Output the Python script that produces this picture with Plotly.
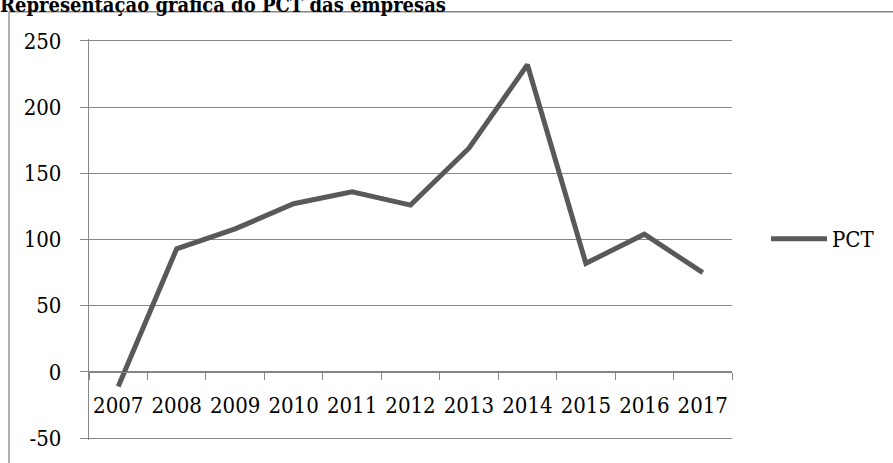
import plotly.graph_objects as go

years = ["2007", "2008", "2009", "2010", "2011", "2012", "2013", "2014", "2015", "2016", "2017"]
pct = [-11, 93, 108, 127, 136, 126, 169, 232, 82, 104, 75]
series_name = "PCT"
title_text = "Representação gráfica do PCT das empresas"
y_tickvals = [-50, 0, 50, 100, 150, 200, 250]
y_ticktext = ["-50", "0", "50", "100", "150", "200", "250"]

W, H = 893, 463
L, R, T, B = 89, 161, 39, 19
pw = W - L - R
ph = H - T - B
ymin, ymax = -51.5, 251.5
grid_col = "#868686"
line_col = "#595959"
font_fam = "'DejaVu Serif Condensed', 'DejaVu Serif', serif"

fig = go.Figure()
fig.add_trace(go.Scatter(
    x=years, y=pct, mode="lines", name=series_name,
    line=dict(color=line_col, width=5),
))

def px_x(p):
    return (p - L) / pw

def px_y(p):
    return (H - B - p) / ph

# outer chart border (partially visible, cropped)
fig.add_shape(type="line", xref="paper", yref="paper",
              x0=px_x(9), x1=px_x(9), y0=px_y(470), y1=px_y(11.5),
              line=dict(color=grid_col, width=1.3))
fig.add_shape(type="line", xref="paper", yref="paper",
              x0=px_x(9), x1=px_x(900), y0=px_y(11.5), y1=px_y(11.5),
              line=dict(color=grid_col, width=1.3))

fig.update_layout(
    width=W, height=H,
    margin=dict(l=L, r=R, t=T, b=B),
    paper_bgcolor="white", plot_bgcolor="white",
    font=dict(family=font_fam, size=22, color="black"),
    title=dict(text="<b>" + title_text + "</b>", x=0, xref="container", xanchor="left",
               y=1 - 5 / H, yref="container", yanchor="middle",
               font=dict(family=font_fam, size=20, color="black")),
    showlegend=True,
    legend=dict(x=px_x(766), xanchor="left", y=px_y(241), yanchor="middle",
                font=dict(family=font_fam, size=22, color="black"),
                bgcolor="rgba(0,0,0,0)", itemwidth=56),
    xaxis=dict(type="category", anchor="free", position=(0 - ymin) / (ymax - ymin),
               range=[-0.5, len(years) - 0.5], tickangle=0,
               showline=True, linecolor=grid_col, linewidth=1.3,
               ticks="outside", tickson="boundaries", ticklen=7,
               tickcolor=grid_col, tickwidth=1.3, showgrid=False,
               ticklabelstandoff=14,
               tickfont=dict(family=font_fam, size=22, color="black")),
    yaxis=dict(range=[ymin, ymax], tickmode="array",
               tickvals=y_tickvals, ticktext=y_ticktext,
               showline=True, linecolor=grid_col, linewidth=1.3,
               ticks="outside", ticklen=8, tickcolor=grid_col, tickwidth=1.3,
               showgrid=True, gridcolor=grid_col, gridwidth=1.3,
               zeroline=True, zerolinecolor=grid_col, zerolinewidth=1.3,
               ticklabelstandoff=14,
               tickfont=dict(family=font_fam, size=22, color="black")),
)

fig.write_html("out.html")
